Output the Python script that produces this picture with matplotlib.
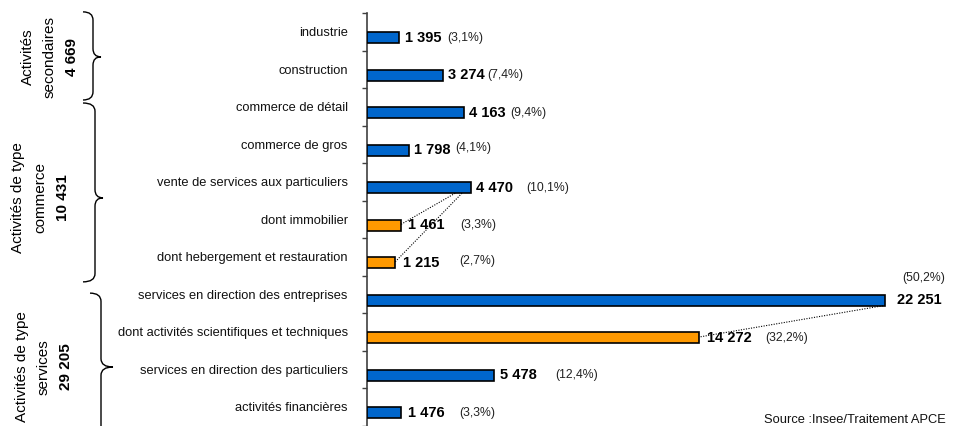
import matplotlib
matplotlib.use("Agg")
import matplotlib.pyplot as plt
import matplotlib.transforms as mtransforms
from matplotlib.path import Path
from matplotlib.patches import PathPatch
from matplotlib.ticker import FixedLocator, NullFormatter

plt.rcParams['font.family'] = ['Liberation Sans', 'DejaVu Sans']

# ---- data -------------------------------------------------------------
categories = [
    "industrie",
    "construction",
    "commerce de détail",
    "commerce de gros",
    "vente de services aux particuliers",
    "dont immobilier",
    "dont hebergement et restauration",
    "services en direction des entreprises",
    "dont activités scientifiques et techniques",
    "services en direction des particuliers",
    "activités financières",
]
values = [1395, 3274, 4163, 1798, 4470, 1461, 1215, 22251, 14272, 5478, 1476]
value_labels = ["1 395", "3 274", "4 163", "1 798", "4 470", "1 461", "1 215",
                "22 251", "14 272", "5 478", "1 476"]
pct_labels = ["(3,1%)", "(7,4%)", "(9,4%)", "(4,1%)", "(10,1%)", "(3,3%)", "(2,7%)",
              "(50,2%)", "(32,2%)", "(12,4%)", "(3,3%)"]
is_subitem = [False, False, False, False, False, True, True, False, True, False, False]

group_titles = [["Activités", "secondaires"],
                ["Activités de type", "commerce"],
                ["Activités de type", "services"]]
group_totals = ["4 669", "10 431", "29 205"]

# sub-item links: (parent row, child row)
links = [(4, 5), (4, 6), (7, 8)]

# ---- style / layout ---------------------------------------------------
BLUE = "#0066CC"
ORANGE = "#FF9900"
W, H, DPI = 960, 426, 100
PX = 72.0 / DPI          # pixels -> points

bar_shift = 0.16         # bars sit a little below the row centre
bar_height = 0.29

value_gap_px = [6, 5, 5, 5, 5, 7, 8, 12, 8, 6, 7]
# (anchor on value text, dx px, dy px) for the percentage labels
pct_place = [("r", 6, 0), ("r", 3, 0), ("r", 5, 0), ("r", 5, 2), ("r", 13, 0),
             ("r", 16, 0), ("r", 20, 2), ("l", 5, 22), ("r", 13, 0),
             ("r", 18, 0), ("r", 15, 0)]
link_start_frac = [0.85, 0.915, 0.996]

# braces: (x curl px, x line px, x tip px, y top, y tip, y bottom) in row units
braces = [(83, 93, 101, -0.53, 0.67, 1.82),
          (83, 95, 103, 1.90, 4.43, 6.67),
          (90, 101, 113, 6.97, 8.94, 10.91)]
group_text_x = [(28, 50, 72), (18, 40, 63), (22, 44, 66)]

fig = plt.figure(figsize=(W / DPI, H / DPI), dpi=DPI)
ax_left = 366.7 / W
xmax = 25000
ax_width = xmax * 0.0233 / W
ax_bottom = 0.5 / H
ax_top = 13 / H
ax = fig.add_axes([ax_left, ax_bottom, ax_width, 1 - ax_top - ax_bottom])

n = len(categories)
ypos = [i + bar_shift for i in range(n)]
colors = [ORANGE if s else BLUE for s in is_subitem]
ax.barh(ypos, values, height=bar_height, color=colors,
        edgecolor="black", linewidth=1.2, zorder=3)

ax.set_xlim(0, xmax)
ax.set_ylim(n - 0.5, -0.5)

for side in ("top", "right", "bottom"):
    ax.spines[side].set_visible(False)
ax.spines["left"].set_color("#404040")
ax.spines["left"].set_linewidth(1.2)
ax.xaxis.set_visible(False)

# ticks on row boundaries, labels on row centres
ax.yaxis.set_major_locator(FixedLocator([i - 0.5 for i in range(n + 1)]))
ax.yaxis.set_major_formatter(NullFormatter())
ax.yaxis.set_minor_locator(FixedLocator(list(range(n))))
ax.set_yticklabels(categories, minor=True, fontsize=9.3, color="#111111")
ax.tick_params(axis="y", which="major", length=5 * PX, width=1.0,
               color="#404040", direction="out")
ax.tick_params(axis="y", which="minor", length=0, pad=19 * PX)

# value and percentage labels
for i, (v, vl, pl) in enumerate(zip(values, value_labels, pct_labels)):
    t = ax.annotate(vl, xy=(v, ypos[i]), xytext=(value_gap_px[i] * PX, 0),
                    textcoords="offset points", ha="left", va="center",
                    fontsize=10.5, fontweight="bold", color="black", zorder=5)
    anchor, dx, dy = pct_place[i]
    ax.annotate(pl, xy=(1 if anchor == "r" else 0, 0.5), xycoords=t,
                xytext=(dx * PX, dy * PX), textcoords="offset points",
                ha="left", va="center", fontsize=8.8, color="#222222")

# dotted links from a bar to its sub-items
for (p, c), f in zip(links, link_start_frac):
    x0 = values[p] * f
    y0 = ypos[p] + bar_height / 2
    x1 = values[c]
    y1 = ypos[c] - 0.02
    ax.plot([x0, x1], [y0, y1], color="black", linewidth=0.8,
            linestyle=(0, (1, 1.3)), zorder=4)

# group braces and titles (x in figure pixels, y in row units)
trans = mtransforms.blended_transform_factory(
    mtransforms.Affine2D().scale(1.0 / W, 1.0) + fig.transFigure, ax.transData)
r = 0.22
for (xc, xl, xt, yt, ytip, yb) in braces:
    verts = [(xc, yt), (xl, yt), (xl, yt + r),
             (xl, ytip - r), (xl, ytip), (xt, ytip),
             (xl, ytip), (xl, ytip + r),
             (xl, yb - r), (xl, yb), (xc, yb)]
    codes = [Path.MOVETO, Path.CURVE3, Path.CURVE3,
             Path.LINETO, Path.CURVE3, Path.CURVE3,
             Path.CURVE3, Path.CURVE3,
             Path.LINETO, Path.CURVE3, Path.CURVE3]
    patch = PathPatch(Path(verts, codes), facecolor="none", edgecolor="black",
                      linewidth=1.0, transform=trans, clip_on=False)
    fig.add_artist(patch)

for (title, total, xs, br) in zip(group_titles, group_totals, group_text_x, braces):
    yc = br[4]
    for line, x in zip(title, xs[:2]):
        fig.text(x, yc, line, transform=trans, rotation=90, ha="center",
                 va="center", fontsize=11, color="black")
    fig.text(xs[2], yc, total, transform=trans, rotation=90, ha="center",
             va="center", fontsize=11, fontweight="bold", color="black")

fig.text(946 / W, 1 - 420 / H, "Source :Insee/Traitement APCE", ha="right",
         va="center", fontsize=9.3, color="#111111")

fig.savefig("out.png", dpi=DPI)
